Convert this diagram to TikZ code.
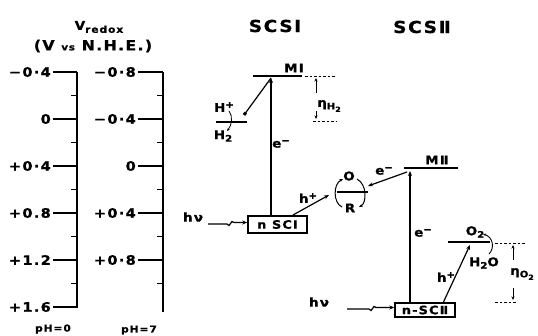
\documentclass[tikz,border=0pt]{standalone}
\usepackage{fontspec}
\setmainfont{DejaVu Sans}[LetterSpace=10,FakeStretch=1.12,BoldFeatures={FakeBold=1}]
\usetikzlibrary{arrows.meta}
\newcommand\fsz[1]{\fontsize{#1}{#1}\selectfont\bfseries}
\newcommand\sbs[2]{\raisebox{-2.5pt}{\fsz{#1}#2}}
\newcommand\sps[2]{\raisebox{4pt}{\fsz{#1}#2}}
\begin{document}
\begin{tikzpicture}[x=1pt,y=-1pt,font=\bfseries,
  lvl/.style={line width=1.6pt},
  ln/.style={line width=1.2pt},
  arr/.style={ln,-{Stealth[length=5pt,width=4pt]}},
  sarr/.style={line width=0.9pt,-{Stealth[length=3.5pt,width=3pt]}},
  dots/.style={line width=0.9pt,dash pattern=on 2.5pt off 2pt},
  tickln/.style={line width=1.2pt},
  axl/.style={font=\fsz{13},anchor=east,inner sep=0pt},
  lab/.style={font=\fsz{12},inner sep=0pt},
  boxn/.style={draw,line width=1.4pt,inner sep=0pt,font=\fsz{11.5}}]
\useasboundingbox (0,0) rectangle (538,335);

% ---- titles
\node[inner sep=0pt] (vr) at (99,27) {\fsz{12}V\raisebox{-3pt}{\fsz{9.5}redox}};
\node[inner sep=0pt] (vnhe) at (93,46) {\fsz{14}(V {\fsz{9}vs} N.H.E.)};
\node[inner sep=0pt,font=\fsz{16.5}] (scs1) at (275,26) {SCSⅠ};
\node[inner sep=0pt,font=\fsz{16.5}] (scs2) at (422,27) {SCSⅡ};

% ---- axis 1 (pH=0)
\draw[tickln] (77,72) -- (77,308);
\foreach \y/\t [count=\i] in {72/−0·4,119/0,166/+0·4,213/+0.8,260/+1.2,307/+1.6}{
  \draw[tickln] (53,\y) -- (77,\y);
  \node[axl] (ax1l\i) at (51,\y) {\t};
}
\foreach \y in {95.5,142.5,189.5,236.5,283.5}{\draw[tickln] (71,\y) -- (77,\y);}
\node[inner sep=0pt,font=\fsz{9.5}] (ph0) at (53,329) {pH=0};

% ---- axis 2 (pH=7)
\draw[tickln] (163,72) -- (163,312);
\foreach \y/\t [count=\i] in {72/−0·8,119/−0·4,166/0,213/+0·4,260/+0·8}{
  \draw[tickln] (138,\y) -- (163,\y);
  \node[axl] (ax2l\i) at (136,\y) {\t};
}
\foreach \y in {95.5,142.5,189.5,236.5,283.5}{\draw[tickln] (157,\y) -- (163,\y);}
\node[inner sep=0pt,font=\fsz{9.5}] (ph7) at (139,330) {pH=7};

% ---- SCS I
\draw[lvl] (253,76) coordinate (m1a) -- (302,76) coordinate (m1b);
\node[lab] (m1) at (294,68) {MⅠ};
\draw[dots] (305,76) coordinate (d1a) -- (336,76) coordinate (d1b);
\draw[dots] (313,121) coordinate (d2a) -- (336,121) coordinate (d2b);
\node[lab] (etah) at (329,106) {η\sbs{9}{H\sbs{7}{2}}};
\coordinate (eh1) at (316,93);
\coordinate (eh2) at (316,111);
\draw[sarr] (eh1) -- (316,78);
\draw[sarr] (eh2) -- (316,119);

\draw[lvl] (216,122) coordinate (hla) -- (247,122) coordinate (hlb);
\node[lab] (hp) at (224,107) {H\sps{9}{+}};
\node[lab] (h2) at (223,136) {H\sbs{9}{2}};
\coordinate (cu1) at (229,111);
\coordinate (cu2) at (227,131);
\draw[line width=0.8pt,-{Stealth[length=3pt,width=2.5pt]}] (cu1) .. controls (233,116) and (232,125) .. (cu2);

\node[boxn,minimum width=59pt,minimum height=17pt] (b1) at (277.5,224.5) {n SCⅠ};
\coordinate (t1) at (271,78);
\coordinate (hsq) at (244,115);
\draw[arr] (b1.north -| t1) -- (t1);
\draw[ln,-{Square[length=3pt,width=3pt]}] (t1) -- (hsq);
\node[lab] (e1) at (281,144) {e\sps{9}{−}};

\node[lab] (hv1) at (193,217) {hν};
\draw[arr] (208,224) -- (227,224) -- (229,225.5) -- (232,221.5) -- (234,222.5) -- (b1.west |- 0,222.5);

% h+ from SCS I to O/R
\coordinate (orl) at (329,195);
\draw[arr] (293,215) -- (orl);
\node[lab] (hp1) at (308,198) {h\sps{9}{+}};

% ---- O/R couple
\draw[lvl] (337,192) coordinate (ora) -- (368,192) coordinate (orb);
\node[lab] (ox) at (349,176) {O};
\node[lab] (rd) at (350,208) {R};
\draw[line width=1pt,-{Stealth[length=3.5pt,width=3pt]}] (342,207) .. controls (333,203) and (333,184) .. (343,179);
\draw[line width=1pt,-{Stealth[length=3.5pt,width=3pt]}] (357,179) .. controls (367,184) and (367,203) .. (359,207);

% ---- SCS II
\draw[lvl] (404,168) coordinate (m2a) -- (458,168) coordinate (m2b);
\node[lab] (m2) at (437,160) {MⅡ};
\coordinate (orr) at (368,186);
\draw[arr] (407,172) -- (orr);
\node[lab] (e2) at (384,171) {e\sps{9}{−}};

\node[boxn,minimum width=60pt,minimum height=14pt] (b2) at (425,310) {n-SCⅡ};
\coordinate (t2) at (410,171);
\draw[arr] (b2.north -| t2) -- (t2);
\node[lab] (e3) at (423,233) {e\sps{9}{−}};

\node[lab] (hv2) at (319,302) {hν};
\draw[arr] (347,309) -- (369,309) -- (371,310.5) -- (374,306.5) -- (376,307.5) -- (b2.west |- 0,307.5);

\draw[lvl] (448,242) coordinate (o2a) -- (490,242) coordinate (o2b);
\node[lab] (o2) at (475,232) {O\sbs{9}{2}};
\node[lab] (h2o) at (484,263) {H\sbs{9}{2}O};
\coordinate (cw1) at (489,254);
\coordinate (cw2) at (483,234);
\draw[line width=0.9pt,-{Stealth[length=3pt,width=2.5pt]}] (cw1) .. controls (495,248) and (493,237) .. (cw2);

\coordinate (t3) at (470,245);
\draw[arr] (443,303) -- (t3);
\node[lab] (hp2) at (446,277) {h\sps{9}{+}};

\draw[dots] (495,243) coordinate (d3a) -- (526,243) coordinate (d3b);
\draw[dots] (495,302) coordinate (d4a) -- (517,302) coordinate (d4b);
\node[lab] (etao) at (522,274) {η\sbs{9}{O\sbs{7}{2}}};
\coordinate (eo1) at (513,260);
\coordinate (eo2) at (513,288);
\draw[sarr] (eo1) -- (513,245);
\draw[sarr] (eo2) -- (513,300);
\end{tikzpicture}
\end{document}
